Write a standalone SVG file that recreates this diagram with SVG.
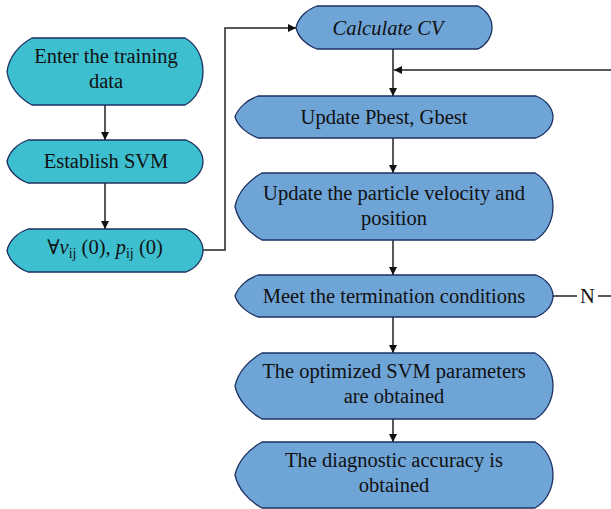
<svg xmlns="http://www.w3.org/2000/svg" width="611" height="509" viewBox="0 0 611 509">
  <style>
    .teal { fill: #3dbfcf; stroke: #1c3160; stroke-width: 1.3; }
    .blue { fill: #6fa4d6; stroke: #1c3160; stroke-width: 1.3; }
    .lbl { font-family: "Liberation Serif", "DejaVu Serif", serif; font-size: 20.5px; fill: #111; text-anchor: middle; }
    .it { font-style: italic; }
    .sub { font-size: 14px; }
    .wire { fill: none; stroke: #222; stroke-width: 1.5; }
  </style>
  <defs>
    <marker id="arrow" viewBox="0 0 10 10" refX="10" refY="5" markerWidth="8" markerHeight="8" markerUnits="userSpaceOnUse" orient="auto">
      <path d="M0,0 L10,5 L0,10 Z" fill="#111"/>
    </marker>
  </defs>

  <!-- connectors -->
  <g id="connectors">
    <path class="wire" d="M105,105 V140" marker-end="url(#arrow)"/>
    <path class="wire" d="M105,183 V229" marker-end="url(#arrow)"/>
    <path class="wire" d="M203,250 H225 V28 H296" marker-end="url(#arrow)"/>
    <path class="wire" d="M393,49 V96" marker-end="url(#arrow)"/>
    <path class="wire" d="M611,70 H394" marker-end="url(#arrow)"/>
    <path class="wire" d="M393,138 V173" marker-end="url(#arrow)"/>
    <path class="wire" d="M393,240 V275" marker-end="url(#arrow)"/>
    <path class="wire" d="M393,317 V353" marker-end="url(#arrow)"/>
    <path class="wire" d="M393,419 V442" marker-end="url(#arrow)"/>
    <path class="wire" d="M553,296 H577 M598,296 H611"/>
    <text class="lbl" x="587.5" y="303">N</text>
  </g>

  <!-- left column -->
  <g id="enter-data">
    <path class="teal" d="M32,38 H185 C196,44 203,57 203,71.5 C203,86 196,99 185,105 H32 C19,98 9,86 7,71.5 C9,57 19,45 32,38 Z"/>
    <text class="lbl" x="106" y="63">Enter the training</text>
    <text class="lbl" x="106" y="88">data</text>
  </g>
  <g id="establish-svm">
    <path class="teal" d="M28,140 H186 C196,144 203,152 203,161.5 C203,171 196,179 186,183 H28 C17,179 9,171 7,161.5 C9,152 17,144 28,140 Z"/>
    <text class="lbl" x="106" y="168">Establish SVM</text>
  </g>
  <g id="init">
    <path class="teal" d="M28,229 H186 C196,233 203,241 203,250.5 C203,260 196,268 186,272 H28 C17,268 9,260 7,250.5 C9,241 17,233 28,229 Z"/>
    <text class="lbl" x="105" y="254">∀<tspan class="it">ν</tspan><tspan class="sub" dy="4">ij</tspan><tspan dy="-4"> (0), </tspan><tspan class="it">p</tspan><tspan class="sub" dy="4">ij</tspan><tspan dy="-4"> (0)</tspan></text>
  </g>

  <!-- right column -->
  <g id="calc-cv">
    <path class="blue" d="M317,6 H478 C486,10 492,18 492,27.5 C492,37 486,45 478,49 H317 C306,45 298,37 296,27.5 C298,18 306,10 317,6 Z"/>
    <text class="lbl it" x="388" y="35">Calculate CV</text>
  </g>
  <g id="update-best">
    <path class="blue" d="M258,96 H536 C546,100 553,108 553,117 C553,126 546,134 536,138 H258 C247,134 238,126 235,117 C238,108 247,100 258,96 Z"/>
    <text class="lbl" x="384" y="124">Update Pbest, Gbest</text>
  </g>
  <g id="update-velocity">
    <path class="blue" d="M262,173 H535 C546,179 553,192 553,206.5 C553,221 546,234 535,240 H262 C249,233 238,221 235,206.5 C238,192 249,180 262,173 Z"/>
    <text class="lbl" x="394" y="200">Update the particle velocity and</text>
    <text class="lbl" x="394" y="225">position</text>
  </g>
  <g id="termination">
    <path class="blue" d="M258,275 H536 C546,279 553,287 553,296 C553,305 546,313 536,317 H258 C247,313 238,305 235,296 C238,287 247,279 258,275 Z"/>
    <text class="lbl" x="394" y="303">Meet the termination conditions</text>
  </g>
  <g id="optimized">
    <path class="blue" d="M262,353 H535 C546,359 553,372 553,386 C553,400 546,413 535,419 H262 C249,412 238,400 235,386 C238,372 249,360 262,353 Z"/>
    <text class="lbl" x="394" y="378">The optimized SVM parameters</text>
    <text class="lbl" x="394" y="403">are obtained</text>
  </g>
  <g id="accuracy">
    <path class="blue" d="M262,442 H535 C546,448 553,461 553,475 C553,489 546,502 535,508 H262 C249,501 238,489 235,475 C238,461 249,449 262,442 Z"/>
    <text class="lbl" x="394" y="467">The diagnostic accuracy is</text>
    <text class="lbl" x="394" y="492">obtained</text>
  </g>
</svg>
